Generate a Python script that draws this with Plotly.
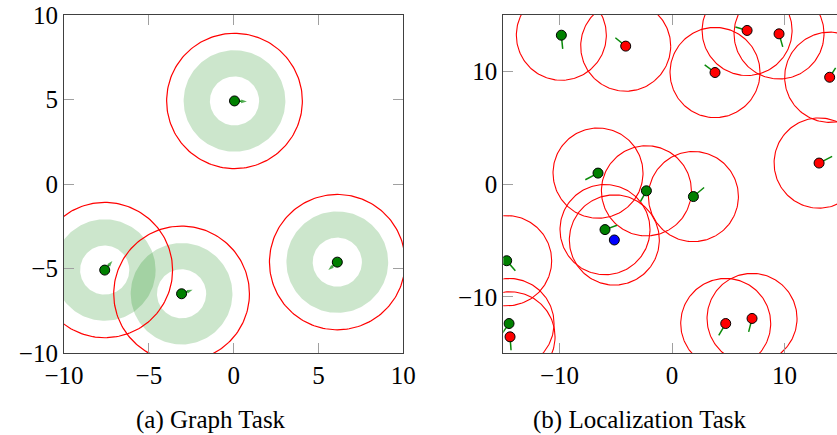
import numpy as np
import plotly.graph_objects as go

# ---------------- data: (a) Graph Task ----------------
graph_x = [0.05, -7.6, -3.07, 6.11]
graph_y = [4.92, -5.08, -6.48, -4.61]
graph_vx = [0.73, 0.45, 0.65, -0.53]
graph_vy = [-0.04, 0.53, 0.24, -0.47]
graph_inner_r = 1.45
graph_outer_r = 3.0
graph_comm_r = 4.0
graph_ticks = [-10, -5, 0, 5, 10]

# ---------------- data: (b) Localization Task ----------------
loc_x = [-9.84, -6.58, -2.28, 1.90, -5.96, -14.70, -14.49, -5.13,
         -14.40, -4.12, 3.82, 6.67, 9.51, 14.01, 13.07, 4.77, 7.11]
loc_y = [13.21, 0.98, -0.59, -1.10, -4.03, -6.79, -12.36, -4.95,
         -13.54, 12.24, 9.90, 13.63, 13.33, 9.48, 1.87, -12.36, -11.91]
loc_vx = [0.12, -1.13, -0.53, 0.95, 1.07, 0.77, -0.62, 0.0,
          0.09, -0.92, -0.92, -1.04, 0.33, 0.53, 1.16, -0.62, -0.30]
loc_vy = [-1.21, -0.59, -0.95, 0.80, 0.39, -0.89, -0.89, 0.0,
          -1.19, 0.74, 0.68, 0.30, -1.16, 0.83, 0.59, -1.04, -1.19]
loc_kind = ["green"] * 7 + ["blue"] + ["red"] * 9
loc_comm_r = 4.0
loc_ticks = [-10, 0, 10]

captions = ["(a) Graph Task", "(b) Localization Task"]

COLORS = {"green": "#008000", "red": "#ff0000", "blue": "#0000ff"}
ARROW = "#0a8a0a"
FONT = "Liberation Serif"
W, H = 837, 435

fig = go.Figure()
th = np.linspace(0, 2 * np.pi, 181)


def circle(cx, cy, r):
    return cx + r * np.cos(th), cy + r * np.sin(th)


def annulus(cx, cy, r1, r2):
    ox, oy = circle(cx, cy, r2)
    ix, iy = circle(cx, cy, r1)
    return np.concatenate([ox, ix[::-1]]), np.concatenate([oy, iy[::-1]])


# ---- left panel ----
for cx, cy in zip(graph_x, graph_y):
    ax_, ay_ = annulus(cx, cy, graph_inner_r, graph_outer_r)
    fig.add_trace(go.Scatter(x=ax_, y=ay_, mode="lines", fill="toself",
                             fillcolor="rgba(0,128,0,0.2)", line=dict(width=0),
                             hoverinfo="skip", showlegend=False, xaxis="x", yaxis="y"))
for cx, cy in zip(graph_x, graph_y):
    px, py = circle(cx, cy, graph_comm_r)
    fig.add_trace(go.Scatter(x=px, y=py, mode="lines", line=dict(color="#ff0000", width=1.2),
                             hoverinfo="skip", showlegend=False, xaxis="x", yaxis="y"))
for cx, cy, vx, vy in zip(graph_x, graph_y, graph_vx, graph_vy):
    fig.add_trace(go.Scatter(x=[cx, cx + vx], y=[cy, cy + vy], mode="lines+markers",
                             line=dict(color=ARROW, width=1.5),
                             marker=dict(symbol=["circle", "arrow"], size=[0, 6],
                                         angleref="previous", color=ARROW, line=dict(width=0)),
                             hoverinfo="skip", showlegend=False, xaxis="x", yaxis="y"))
fig.add_trace(go.Scatter(x=graph_x, y=graph_y, mode="markers",
                         marker=dict(size=10, color=COLORS["green"], line=dict(color="black", width=1)),
                         showlegend=False, xaxis="x", yaxis="y"))

# ---- right panel ----
for cx, cy in zip(loc_x, loc_y):
    px, py = circle(cx, cy, loc_comm_r)
    fig.add_trace(go.Scatter(x=px, y=py, mode="lines", line=dict(color="#ff0000", width=1.1),
                             hoverinfo="skip", showlegend=False, xaxis="x2", yaxis="y2"))
for cx, cy, vx, vy in zip(loc_x, loc_y, loc_vx, loc_vy):
    if vx == 0 and vy == 0:
        continue
    fig.add_trace(go.Scatter(x=[cx, cx + vx], y=[cy, cy + vy], mode="lines",
                             line=dict(color=ARROW, width=1.5),
                             hoverinfo="skip", showlegend=False, xaxis="x2", yaxis="y2"))
fig.add_trace(go.Scatter(x=loc_x, y=loc_y, mode="markers",
                         marker=dict(size=10, color=[COLORS[k] for k in loc_kind],
                                     line=dict(color="black", width=1)),
                         showlegend=False, xaxis="x2", yaxis="y2"))

# ---- layout ----
px_per_unit_r = 11.25
x2_right = -15 + (W - 503.3) / px_per_unit_r
ydom = [(H - 353.3) / H, (H - 15) / H]
tickfont = dict(family=FONT, size=25, color="black")
axis_common = dict(showgrid=False, zeroline=False, ticks="inside", ticklen=10,
                   tickcolor="#a0a0a0", tickwidth=1, showline=True, linecolor="#404040",
                   linewidth=1.2, tickfont=tickfont, automargin=False)

fig.update_layout(
    width=W, height=H, margin=dict(l=0, r=0, t=0, b=0, pad=0),
    paper_bgcolor="white", plot_bgcolor="white", showlegend=False,
    xaxis=dict(domain=[64 / W, 403.3 / W], range=[-10, 10], tickvals=graph_ticks,
               mirror="allticks", anchor="y", **axis_common),
    yaxis=dict(domain=ydom, range=[-10, 10], tickvals=graph_ticks,
               mirror="allticks", anchor="x", **axis_common),
    xaxis2=dict(domain=[503.3 / W, 1.0], range=[-15, x2_right], tickvals=loc_ticks,
                mirror="allticks", anchor="y2", **axis_common),
    yaxis2=dict(domain=ydom, range=[-15, 15], tickvals=loc_ticks,
                mirror=False, anchor="x2", **axis_common),
    annotations=[
        dict(text=captions[0], x=211 / W, y=0, xref="paper", yref="paper",
             xanchor="center", yanchor="bottom", showarrow=False, borderpad=0,
             font=dict(family=FONT, size=25, color="black")),
        dict(text=captions[1], x=639 / W, y=0, xref="paper", yref="paper",
             xanchor="center", yanchor="bottom", showarrow=False, borderpad=0,
             font=dict(family=FONT, size=25, color="black")),
    ],
)

fig.write_html("out.html", config={"displayModeBar": False},
               post_script="document.body.style.margin='0';")
